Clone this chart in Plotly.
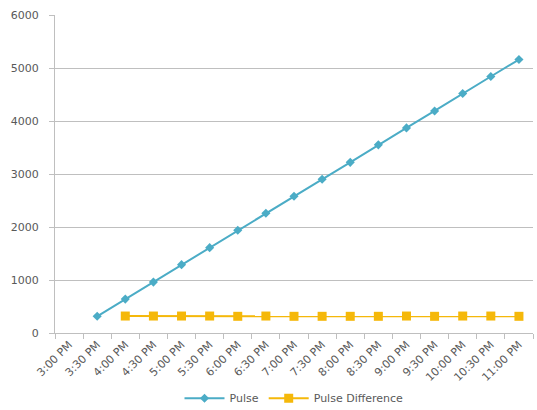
import plotly.graph_objects as go

categories = ["3:00 PM", "3:30 PM", "4:00 PM", "4:30 PM", "5:00 PM", "5:30 PM",
              "6:00 PM", "6:30 PM", "7:00 PM", "7:30 PM", "8:00 PM", "8:30 PM",
              "9:00 PM", "9:30 PM", "10:00 PM", "10:30 PM", "11:00 PM"]
pulse = [None, 315, 640, 960, 1290, 1610, 1940, 2260, 2580, 2900, 3220, 3550,
         3870, 4190, 4520, 4840, 5160]
pulse_diff = [None, None, 320, 320, 320, 320, 315, 320, 315, 315, 315, 315,
              320, 315, 320, 320, 315]
y_ticks = [0, 1000, 2000, 3000, 4000, 5000, 6000]

font_family = "DejaVu Sans"
text_color = "#595959"
grid_color = "#bfbfbf"

fig = go.Figure()
fig.add_trace(go.Scatter(
    x=categories, y=pulse, name="Pulse", mode="lines+markers",
    line=dict(color="#4BACC6", width=2),
    marker=dict(symbol="diamond", size=7, color="#4BACC6"),
))
fig.add_trace(go.Scatter(
    x=categories, y=pulse_diff, name="Pulse Difference", mode="lines+markers",
    line=dict(color="#F5B80A", width=2),
    marker=dict(symbol="square", size=9, color="#F5B80A"),
))

fig.update_layout(
    width=537, height=410,
    margin=dict(l=55, r=4, t=15, b=77, autoexpand=False),
    paper_bgcolor="white", plot_bgcolor="white",
    font=dict(family=font_family, size=11, color=text_color),
    showlegend=True,
    legend=dict(orientation="h", x=0.5, xanchor="center", y=-0.205, yanchor="middle",
                font=dict(size=11, color=text_color), itemwidth=40),
)
fig.update_xaxes(
    type="category", range=[-0.5, 16.5], tickson="boundaries", automargin=False,
    ticks="outside", ticklen=5, tickcolor=grid_color,
    showline=True, linecolor=grid_color, linewidth=1,
    showgrid=False, tickangle=-45, tickfont=dict(size=11, color=text_color),
)
fig.update_yaxes(
    range=[0, 6000], tickvals=y_ticks, ticks="outside", ticklen=5, tickcolor=grid_color,
    showline=True, linecolor=grid_color, linewidth=1, automargin=False,
    showgrid=True, gridcolor=grid_color, gridwidth=1, zeroline=False,
    ticklabelstandoff=8,
    tickfont=dict(size=11, color=text_color),
)

fig.write_html("out.html")
